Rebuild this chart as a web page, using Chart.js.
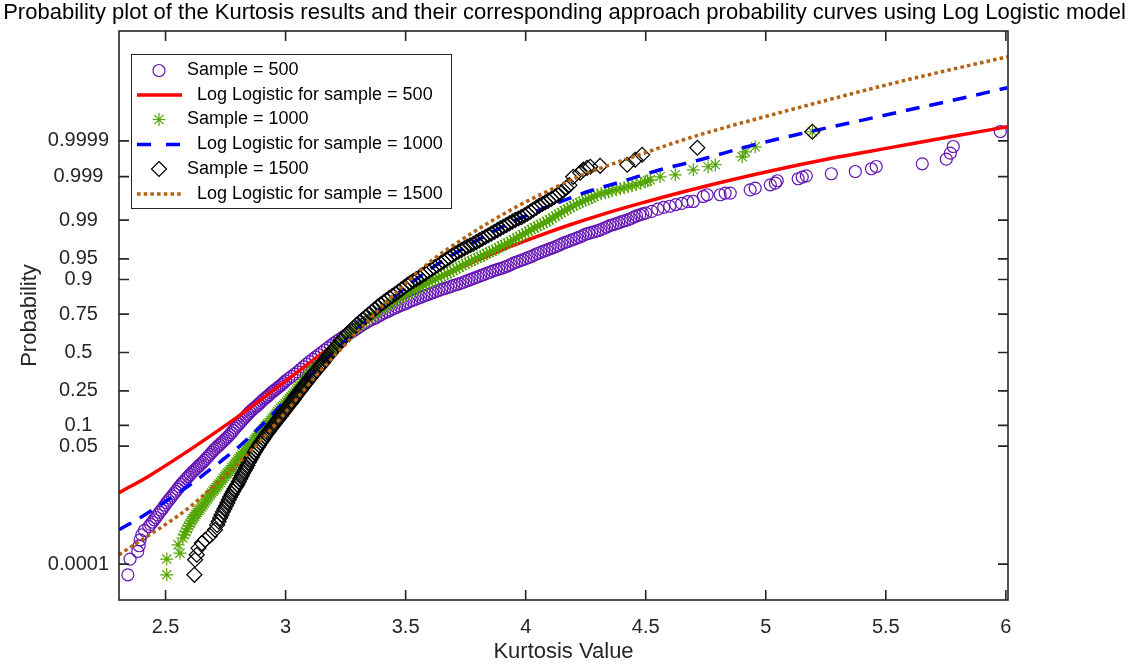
<!DOCTYPE html>
<html><head><meta charset="utf-8">
<script src="https://cdn.jsdelivr.net/npm/chart.js@4.4.1/dist/chart.umd.min.js"></script>
<style>html,body{margin:0;padding:0;background:#fff;overflow:hidden}</style>
</head><body>
<canvas id="c" width="1129" height="666"></canvas>
<script>
// ---- Axis ticks ----
const xTickValues = [2.5, 3, 3.5, 4, 4.5, 5, 5.5, 6];
const xTickLabels = ['2.5', '3', '3.5', '4', '4.5', '5', '5.5', '6'];
const yTickProbs  = [0.0001, 0.05, 0.1, 0.25, 0.5, 0.75, 0.9, 0.95, 0.99, 0.999, 0.9999];
const yTickLabels = ['0.0001', '0.05', '0.1', '0.25', '0.5', '0.75', '0.9', '0.95', '0.99', '0.999', '0.9999'];

// ---- Data: [kurtosis value, standard-normal quantile of plotting probability] ----
const sample500 = [
[2.343,-3.907],[2.352,-3.631],[2.384,-3.497],[2.390,-3.397],[2.394,-3.292],[2.401,-3.204],[2.412,-3.128],
[2.4300,-3.06],[2.4375,-3.02],[2.4450,-2.98],[2.4525,-2.94],[2.4600,-2.90],[2.4675,-2.855],[2.4750,-2.81],[2.4825,-2.77],
[2.4900,-2.73],[2.4975,-2.685],[2.5050,-2.64],[2.5125,-2.60],[2.5200,-2.56],[2.5275,-2.52],[2.5350,-2.48],[2.5425,-2.44],
[2.5500,-2.40],[2.5575,-2.36],[2.5650,-2.32],[2.5725,-2.285],[2.5800,-2.25],[2.5875,-2.215],[2.5950,-2.18],[2.6025,-2.145],
[2.6100,-2.11],[2.6175,-2.08],[2.6250,-2.05],[2.6325,-2.02],[2.6400,-1.99],[2.6475,-1.96],[2.6550,-1.93],[2.6625,-1.895],
[2.6700,-1.86],[2.6775,-1.825],[2.6850,-1.79],[2.6925,-1.755],[2.7000,-1.72],[2.7075,-1.69],[2.7150,-1.66],[2.7225,-1.63],
[2.7300,-1.60],[2.7375,-1.57],[2.7450,-1.54],[2.7525,-1.51],[2.7600,-1.48],[2.7675,-1.445],[2.7750,-1.41],[2.7825,-1.37],
[2.7900,-1.33],[2.7975,-1.295],[2.8050,-1.26],[2.8125,-1.225],[2.8200,-1.19],[2.8275,-1.155],[2.8350,-1.12],[2.8425,-1.085],
[2.8500,-1.05],[2.8575,-1.02],[2.8650,-0.99],[2.8725,-0.965],[2.8800,-0.94],[2.8875,-0.91],[2.8950,-0.88],[2.9025,-0.85],
[2.9100,-0.82],[2.9175,-0.795],[2.9250,-0.77],[2.9325,-0.74],[2.9400,-0.71],[2.9475,-0.685],[2.9550,-0.66],[2.9625,-0.635],
[2.9700,-0.61],[2.9775,-0.585],[2.9850,-0.56],[2.9925,-0.53],[3.0000,-0.50],
[3.0125,-0.46],[3.025,-0.42],[3.0375,-0.38],[3.05,-0.34],[3.0625,-0.295],[3.075,-0.25],[3.0875,-0.205],[3.1,-0.16],
[3.1125,-0.12],[3.125,-0.08],[3.1375,-0.04],[3.15,0.00],[3.1625,0.04],[3.175,0.08],[3.1875,0.12],[3.2,0.16],
[3.2125,0.195],[3.225,0.23],[3.2375,0.265],[3.25,0.30],[3.2625,0.33],[3.275,0.36],[3.2875,0.395],[3.3,0.43],
[3.3125,0.465],[3.325,0.50],[3.3375,0.53],[3.35,0.56],[3.3625,0.585],[3.375,0.61],[3.3875,0.64],[3.4,0.67],
[3.4125,0.695],[3.425,0.72],[3.4375,0.745],[3.45,0.77],[3.4625,0.795],[3.475,0.82],[3.4875,0.84],[3.5,0.86],
[3.5125,0.885],[3.525,0.91],[3.5375,0.93],[3.55,0.95],[3.5625,0.97],[3.575,0.99],[3.5875,1.01],[3.6,1.03],
[3.6125,1.05],[3.625,1.07],[3.6375,1.09],[3.65,1.11],[3.6625,1.125],[3.675,1.14],[3.6875,1.16],[3.7,1.18],
[3.7125,1.195],[3.725,1.21],[3.7375,1.23],[3.75,1.25],[3.7625,1.27],[3.775,1.29],[3.7875,1.31],[3.8,1.33],
[3.8125,1.35],[3.825,1.37],[3.8375,1.39],[3.85,1.41],[3.8625,1.43],[3.875,1.45],[3.8875,1.465],[3.9,1.48],
[3.9125,1.50],[3.925,1.52],[3.9375,1.545],[3.95,1.57],[3.9625,1.59],[3.975,1.61],[3.9875,1.63],[4.0,1.65],
[4.0125,1.67],[4.025,1.69],[4.0375,1.715],[4.05,1.74],[4.0625,1.76],[4.075,1.78],[4.0875,1.80],[4.1,1.82],
[4.1125,1.84],[4.125,1.86],[4.1375,1.885],[4.15,1.91],[4.1625,1.93],[4.175,1.95],[4.1875,1.97],[4.2,1.99],
[4.2125,2.01],[4.225,2.03],[4.2375,2.055],[4.25,2.08],[4.2625,2.095],[4.275,2.11],[4.2875,2.125],[4.3,2.14],
[4.3125,2.16],[4.325,2.18],[4.3375,2.205],[4.35,2.23],[4.3625,2.245],[4.375,2.26],[4.3875,2.28],[4.4,2.30],
[4.4125,2.315],[4.425,2.33],[4.4375,2.355],[4.45,2.38],[4.4625,2.40],[4.475,2.42],[4.4875,2.435],[4.5,2.45],
[4.525,2.48],[4.55,2.52],[4.575,2.55],[4.6,2.57],[4.625,2.60],[4.65,2.62],[4.675,2.65],
[4.698,2.654],[4.740,2.742],[4.756,2.772],[4.810,2.772],[4.831,2.801],[4.852,2.801],[4.935,2.859],[4.956,2.889],
[5.019,2.947],[5.040,2.977],[5.048,3.018],[5.135,3.053],[5.152,3.083],[5.169,3.105],[5.273,3.141],[5.373,3.181],
[5.440,3.229],[5.460,3.269],[5.652,3.316],[5.752,3.399],[5.769,3.504],[5.781,3.620],[5.977,3.884]
];
const sample1000 = [
[2.505,-3.907],[2.505,-3.631],[2.560,-3.526],[2.552,-3.380],
[2.572,-3.26],[2.578,-3.205],[2.584,-3.15],[2.590,-3.10],[2.596,-3.05],[2.602,-3.005],[2.608,-2.96],[2.614,-2.92],
[2.620,-2.88],[2.626,-2.845],[2.632,-2.81],[2.638,-2.78],[2.644,-2.75],[2.650,-2.715],[2.656,-2.68],[2.662,-2.645],
[2.668,-2.61],[2.674,-2.575],[2.680,-2.54],[2.686,-2.505],[2.692,-2.47],[2.698,-2.44],[2.704,-2.41],[2.710,-2.375],
[2.716,-2.34],[2.722,-2.31],[2.728,-2.28],[2.734,-2.245],[2.740,-2.21],[2.746,-2.18],[2.752,-2.15],[2.758,-2.12],
[2.764,-2.09],[2.770,-2.055],[2.776,-2.02],[2.782,-1.99],[2.788,-1.96],[2.794,-1.925],[2.800,-1.89],[2.806,-1.86],
[2.812,-1.83],[2.818,-1.80],[2.824,-1.77],[2.830,-1.74],[2.836,-1.71],[2.842,-1.68],[2.848,-1.65],[2.854,-1.62],
[2.860,-1.59],[2.866,-1.56],[2.872,-1.53],[2.878,-1.495],[2.884,-1.46],[2.890,-1.43],[2.896,-1.40],[2.902,-1.37],
[2.908,-1.34],[2.914,-1.31],[2.920,-1.28],[2.926,-1.255],[2.932,-1.23],[2.938,-1.195],[2.944,-1.16],[2.950,-1.13],
[2.956,-1.10],[2.962,-1.07],[2.968,-1.04],[2.974,-1.01],[2.980,-0.98],[2.986,-0.955],[2.992,-0.93],[2.998,-0.90],
[3.004,-0.87],[3.010,-0.84],[3.016,-0.81],[3.022,-0.78],[3.028,-0.75],[3.034,-0.72],[3.040,-0.69],[3.046,-0.66],
[3.052,-0.63],[3.058,-0.60],[3.064,-0.57],[3.070,-0.54],[3.076,-0.51],[3.082,-0.475],[3.088,-0.44],[3.094,-0.41],
[3.100,-0.38],[3.106,-0.35],[3.112,-0.32],[3.118,-0.295],[3.124,-0.27],
[3.1365,-0.215],[3.149,-0.16],[3.1615,-0.11],[3.174,-0.06],[3.1865,-0.005],[3.199,0.05],[3.2115,0.105],[3.224,0.16],
[3.2365,0.21],[3.249,0.26],[3.2615,0.31],[3.274,0.36],[3.2865,0.40],[3.299,0.44],[3.3115,0.48],[3.324,0.52],
[3.3365,0.56],[3.349,0.60],[3.3615,0.64],[3.374,0.68],[3.3865,0.715],[3.399,0.75],[3.4115,0.785],[3.424,0.82],
[3.4365,0.855],[3.449,0.89],[3.4615,0.92],[3.474,0.95],[3.4865,0.98],[3.499,1.01],[3.5115,1.04],[3.524,1.07],
[3.5365,1.095],[3.549,1.12],[3.5615,1.15],[3.574,1.18],[3.5865,1.21],[3.599,1.24],[3.6115,1.265],[3.624,1.29],
[3.6365,1.315],[3.649,1.34],[3.6615,1.365],[3.674,1.39],[3.6865,1.415],[3.699,1.44],[3.7115,1.47],[3.724,1.50],
[3.7365,1.53],[3.749,1.56],[3.7615,1.585],[3.774,1.61],[3.7865,1.635],[3.799,1.66],[3.8115,1.685],[3.824,1.71],
[3.8365,1.735],[3.849,1.76],[3.8615,1.785],[3.874,1.81],[3.8865,1.84],[3.899,1.87],[3.9115,1.895],[3.924,1.92],
[3.9365,1.95],[3.949,1.98],[3.9615,2.01],[3.974,2.04],[3.9865,2.07],[3.999,2.10],[4.0115,2.13],[4.024,2.16],
[4.0365,2.19],[4.049,2.22],[4.0615,2.245],[4.074,2.27],[4.0865,2.30],[4.099,2.33],[4.1115,2.365],[4.124,2.40],
[4.1365,2.43],[4.149,2.46],[4.1615,2.49],[4.174,2.52],[4.1865,2.55],[4.199,2.58],[4.2115,2.605],[4.224,2.63],
[4.2365,2.655],[4.249,2.68],[4.2615,2.70],[4.274,2.72],
[4.285,2.745],[4.298,2.772],[4.315,2.79],[4.331,2.807],[4.345,2.825],[4.360,2.842],[4.377,2.86],[4.394,2.877],
[4.410,2.895],[4.427,2.912],[4.443,2.93],[4.460,2.947],[4.479,2.975],[4.498,3.000],[4.508,3.018],[4.519,3.035],
[4.560,3.088],[4.623,3.123],[4.698,3.211],[4.760,3.264],[4.790,3.299],[4.902,3.439],[4.915,3.527],[4.956,3.615],
[5.194,3.879]
];
const sample1500 = [
[2.620,-3.907],[2.623,-3.643],[2.630,-3.555],[2.637,-3.438],[2.651,-3.350],[2.665,-3.292],[2.685,-3.221],[2.706,-3.116],
[2.715,-3.03],[2.721,-2.97],[2.727,-2.91],[2.733,-2.855],[2.739,-2.80],[2.745,-2.75],[2.751,-2.70],[2.757,-2.645],
[2.763,-2.59],[2.769,-2.54],[2.775,-2.49],[2.781,-2.445],[2.787,-2.40],[2.793,-2.36],[2.799,-2.32],[2.805,-2.27],
[2.811,-2.22],[2.817,-2.17],[2.823,-2.12],[2.829,-2.075],[2.835,-2.03],[2.841,-1.98],[2.847,-1.93],[2.853,-1.885],
[2.859,-1.84],[2.865,-1.795],[2.871,-1.75],[2.877,-1.71],[2.883,-1.67],[2.889,-1.63],[2.895,-1.59],[2.901,-1.555],
[2.907,-1.52],[2.913,-1.48],[2.919,-1.44],[2.925,-1.41],[2.931,-1.38],[2.937,-1.345],[2.943,-1.31],[2.949,-1.28],
[2.955,-1.25],[2.961,-1.215],[2.967,-1.18],[2.973,-1.15],[2.979,-1.12],[2.985,-1.085],[2.991,-1.05],[2.997,-1.02],
[3.003,-0.99],[3.009,-0.955],[3.015,-0.92],[3.021,-0.89],[3.027,-0.86],[3.033,-0.825],[3.039,-0.79],[3.045,-0.755],
[3.051,-0.72],[3.057,-0.69],[3.063,-0.66],[3.069,-0.625],[3.075,-0.59],[3.081,-0.56],[3.087,-0.53],[3.093,-0.495],
[3.099,-0.46],[3.105,-0.43],[3.111,-0.40],[3.117,-0.37],[3.123,-0.34],[3.129,-0.31],[3.135,-0.28],[3.141,-0.25],
[3.147,-0.22],[3.153,-0.19],[3.159,-0.16],[3.165,-0.125],[3.171,-0.09],[3.177,-0.06],[3.183,-0.03],[3.189,0.00],
[3.195,0.03],[3.201,0.06],[3.207,0.09],
[3.2195,0.15],[3.232,0.21],[3.2445,0.27],[3.257,0.33],[3.2695,0.38],[3.282,0.43],[3.2945,0.48],[3.307,0.53],
[3.3195,0.575],[3.332,0.62],[3.3445,0.665],[3.357,0.71],[3.3695,0.755],[3.382,0.80],[3.3945,0.84],[3.407,0.88],
[3.4195,0.92],[3.432,0.96],[3.4445,0.995],[3.457,1.03],[3.4695,1.07],[3.482,1.11],[3.4945,1.15],[3.507,1.19],
[3.5195,1.225],[3.532,1.26],[3.5445,1.29],[3.557,1.32],[3.5695,1.355],[3.582,1.39],[3.5945,1.425],[3.607,1.46],
[3.6195,1.495],[3.632,1.53],[3.6445,1.565],[3.657,1.60],[3.6695,1.635],[3.682,1.67],[3.6945,1.705],[3.707,1.74],
[3.7195,1.77],[3.732,1.80],[3.7445,1.83],[3.757,1.86],[3.7695,1.885],[3.782,1.91],[3.7945,1.94],[3.807,1.97],
[3.8195,2.00],[3.832,2.03],[3.8445,2.06],[3.857,2.09],[3.8695,2.12],[3.882,2.15],[3.8945,2.18],[3.907,2.21],
[3.9195,2.24],[3.932,2.27],[3.9445,2.30],[3.957,2.33],[3.9695,2.355],[3.982,2.38],[3.9945,2.41],[4.007,2.44],
[4.0195,2.475],[4.032,2.51],[4.0445,2.545],[4.057,2.58],[4.0695,2.61],[4.082,2.64],[4.0945,2.67],[4.107,2.70],
[4.1195,2.735],[4.132,2.77],[4.1445,2.81],[4.157,2.85],[4.1695,2.895],[4.182,2.94],
[4.198,3.088],[4.227,3.159],[4.240,3.212],[4.256,3.246],[4.269,3.264],[4.310,3.281],[4.423,3.299],[4.456,3.387],
[4.485,3.475],[4.715,3.598],[5.194,3.879]
];
// Log-logistic fitted curves (kurtosis value, normal quantile)
const fit500 = [
[2.306,-2.466],[2.435,-2.16],[2.569,-1.80],[2.685,-1.47],[2.810,-1.10],[2.935,-0.71],[3.060,-0.31],
[3.185,0.09],[3.310,0.469],[3.435,0.821],[3.560,1.137],[3.685,1.401],[3.810,1.640],[3.935,1.860],[4.060,2.060],
[4.185,2.245],[4.310,2.415],[4.477,2.620],[4.727,2.900],[5.019,3.190],[5.269,3.410],[5.519,3.600],[5.769,3.790],[6.006,3.967]
];
const fit1000 = [
[2.306,-3.116],[2.394,-2.905],[2.498,-2.624],[2.602,-2.325],[2.706,-1.991],[2.810,-1.640],[2.915,-1.218],
[3.019,-0.761],[3.144,-0.234],[3.269,0.293],[3.394,0.768],[3.519,1.207],[3.644,1.580],[3.769,1.900],[3.894,2.191],
[4.019,2.437],[4.144,2.648],[4.269,2.842],[4.394,2.995],[4.560,3.211],[4.727,3.387],[4.935,3.632],[5.144,3.843],
[5.352,4.036],[5.560,4.230],[5.769,4.423],[6.006,4.652]
];
const fit1500 = [
[2.306,-3.556],[2.394,-3.310],[2.498,-3.028],[2.602,-2.712],[2.706,-2.325],[2.810,-1.921],[2.915,-1.464],
[3.019,-0.954],[3.123,-0.427],[3.227,0.047],[3.352,0.592],[3.477,1.120],[3.602,1.594],[3.727,1.963],[3.852,2.297],
[3.977,2.596],[4.102,2.857],[4.227,3.105],[4.352,3.300],[4.477,3.480],[4.644,3.720],[4.810,3.930],[5.019,4.170],
[5.269,4.450],[5.519,4.720],[5.769,4.970],[6.006,5.196]
];

// inverse standard normal CDF (probability-axis transform for tick positions)
function norminv(p){
  const a=[-3.969683028665376e+01,2.209460984245205e+02,-2.759285104469687e+02,1.383577518672690e+02,-3.066479806614716e+01,2.506628277459239e+00];
  const b=[-5.447609879822406e+01,1.615858368580409e+02,-1.556989798598866e+02,6.680131188771972e+01,-1.328068155288572e+01];
  const c=[-7.784894002430293e-03,-3.223964580411365e-01,-2.400758277161838e+00,-2.549671010243732e+00,4.374664141464968e+00,2.938163982698783e+00];
  const d=[7.784695709041462e-03,3.224671290700398e-01,2.445134137142996e+00,3.754408661907416e+00];
  const pl=0.02425, ph=1-pl; let q,r;
  if(p<pl){q=Math.sqrt(-2*Math.log(p));return (((((c[0]*q+c[1])*q+c[2])*q+c[3])*q+c[4])*q+c[5])/((((d[0]*q+d[1])*q+d[2])*q+d[3])*q+1);}
  if(p<=ph){q=p-0.5;r=q*q;return (((((a[0]*r+a[1])*r+a[2])*r+a[3])*r+a[4])*r+a[5])*q/(((((b[0]*r+b[1])*r+b[2])*r+b[3])*r+b[4])*r+1);}
  q=Math.sqrt(-2*Math.log(1-p));return -(((((c[0]*q+c[1])*q+c[2])*q+c[3])*q+c[4])*q+c[5])/((((d[0]*q+d[1])*q+d[2])*q+d[3])*q+1);
}
const toXY = arr => arr.map(p => ({x: p[0], y: p[1]}));

const FONT = "'Liberation Sans', Arial, Helvetica, sans-serif";
const C_PURPLE = '#6414b4', C_GREEN = '#52a500', C_BROWN = '#b5600e';

const datasets = [
  {label:'Sample = 500', data:toXY(sample500), showLine:false, pointStyle:'circle', pointRadius:6,
   borderColor:C_PURPLE, backgroundColor:'rgba(0,0,0,0)', pointBorderWidth:1.2, order:6, legendKind:'circle'},
  {label:'Log Logistic for sample = 500', data:toXY(fit500), showLine:true, pointRadius:0, borderColor:'#ff0000',
   borderWidth:3.5, cubicInterpolationMode:'monotone', order:5, legendKind:'line', dash:[]},
  {label:'Sample = 1000', data:toXY(sample1000), showLine:false, pointStyle:'star', pointRadius:6.5,
   borderColor:C_GREEN, backgroundColor:C_GREEN, pointBorderWidth:1.2, order:4, legendKind:'star'},
  {label:'Log Logistic for sample = 1000', data:toXY(fit1000), showLine:true, pointRadius:0, borderColor:'#0000ff',
   borderWidth:3.5, borderDash:[14,10], cubicInterpolationMode:'monotone', order:3, legendKind:'line', dash:[14,15]},
  {label:'Sample = 1500', data:toXY(sample1500), showLine:false, pointStyle:'rectRot', pointRadius:7.5,
   borderColor:'#000000', backgroundColor:'rgba(0,0,0,0)', pointBorderWidth:1.2, order:2, legendKind:'diamond'},
  {label:'Log Logistic for sample = 1500', data:toXY(fit1500), showLine:true, pointRadius:0, borderColor:C_BROWN,
   borderWidth:3.5, borderDash:[3.5,3.2], cubicInterpolationMode:'monotone', order:1, legendKind:'line', dash:[3.5,3.2]}
];

const framePlugin = {
  id:'frame',
  afterDatasetsDraw(chart){
    const {ctx, chartArea:a, scales:{x, y}} = chart;
    ctx.save();
    ctx.strokeStyle = '#262626'; ctx.lineWidth = 1.6; ctx.setLineDash([]);
    ctx.strokeRect(a.left, a.top, a.right - a.left, a.bottom - a.top);
    const tl = 10;
    ctx.beginPath();
    x.ticks.forEach(t => { const px = x.getPixelForValue(t.value);
      ctx.moveTo(px, a.bottom); ctx.lineTo(px, a.bottom - tl);
      ctx.moveTo(px, a.top); ctx.lineTo(px, a.top + tl); });
    y.ticks.forEach(t => { const py = y.getPixelForValue(t.value);
      ctx.moveTo(a.left, py); ctx.lineTo(a.left + tl, py);
      ctx.moveTo(a.right, py); ctx.lineTo(a.right - tl, py); });
    ctx.stroke();
    ctx.restore();
  }
};

const legendPlugin = {
  id:'boxLegend',
  afterDraw(chart){
    const ctx = chart.ctx;
    const bx = 131, by = 54, bw = 320, bh = 154;
    ctx.save();
    ctx.fillStyle = '#ffffff'; ctx.fillRect(bx, by, bw, bh);
    ctx.strokeStyle = '#262626'; ctx.lineWidth = 1; ctx.setLineDash([]);
    ctx.strokeRect(bx + 0.5, by + 0.5, bw, bh);
    ctx.font = '18px ' + FONT; ctx.textBaseline = 'middle'; ctx.fillStyle = '#000';
    const rows = [70.5, 95, 119.5, 144.5, 169, 194];
    chart.data.datasets.forEach((ds, i) => {
      const yy = rows[i], cx = 159;
      ctx.strokeStyle = ds.borderColor; ctx.setLineDash([]);
      if (ds.legendKind === 'line') {
        ctx.lineWidth = ds.borderWidth; ctx.setLineDash(ds.dash);
        ctx.beginPath(); ctx.moveTo(137, yy); ctx.lineTo(182, yy); ctx.stroke();
        ctx.setLineDash([]);
        ctx.fillStyle = '#000'; ctx.textAlign = 'left'; ctx.fillText(ds.label, 197, yy);
      } else {
        ctx.lineWidth = 1.2; ctx.beginPath();
        if (ds.legendKind === 'circle') { ctx.arc(cx, yy, 6, 0, Math.PI * 2); }
        else if (ds.legendKind === 'star') {
          const r = 6.5, d = r * Math.SQRT1_2;
          ctx.moveTo(cx - r, yy); ctx.lineTo(cx + r, yy); ctx.moveTo(cx, yy - r); ctx.lineTo(cx, yy + r);
          ctx.moveTo(cx - d, yy - d); ctx.lineTo(cx + d, yy + d); ctx.moveTo(cx - d, yy + d); ctx.lineTo(cx + d, yy - d);
        } else {
          const r = 7.5; ctx.moveTo(cx, yy - r); ctx.lineTo(cx + r, yy); ctx.lineTo(cx, yy + r); ctx.lineTo(cx - r, yy); ctx.closePath();
        }
        ctx.stroke();
        ctx.fillStyle = '#000'; ctx.textAlign = 'left'; ctx.fillText(ds.label, 187, yy);
      }
    });
    ctx.restore();
  }
};

new Chart(document.getElementById('c'), {
  type:'scatter',
  data:{datasets},
  plugins:[framePlugin, legendPlugin],
  options:{
    responsive:false, animation:false, devicePixelRatio:1,
    layout:{padding:{left:0, right:0, top:0, bottom:0}},
    plugins:{
      legend:{display:false}, tooltip:{enabled:false},
      title:{display:true, text:'Probability plot of the Kurtosis results and their corresponding approach probability curves using Log Logistic model',
        color:'#000', font:{family:FONT, size:22, weight:'normal'}, padding:{top:0, bottom:4.6}}
    },
    scales:{
      x:{type:'linear', min:2.306, max:6.009,
        grid:{display:false, drawTicks:false}, border:{display:false},
        afterBuildTicks:s => { s.ticks = xTickValues.map(v => ({value:v})); },
        ticks:{autoSkip:false, maxRotation:0, padding:15, color:'#262626', font:{family:FONT, size:20},
          callback:(v, i) => xTickLabels[i]},
        title:{display:true, text:'Kurtosis Value', color:'#262626', font:{family:FONT, size:22}, padding:{top:0, bottom:1}},
        afterFit:s => { s.height = 66; }
      },
      y:{type:'linear', min:-4.35, max:5.65,
        grid:{display:false, drawTicks:false}, border:{display:false},
        afterBuildTicks:s => { s.ticks = yTickProbs.map(p => ({value:norminv(p)})); },
        ticks:{autoSkip:false, crossAlign:'center', padding:10, color:'#262626', font:{family:FONT, size:20},
          callback:(v, i) => yTickLabels[i]},
        title:{display:true, text:'Probability', color:'#262626', font:{family:FONT, size:22}, padding:{top:17, bottom:0}},
        afterFit:s => { s.width = 119; }
      },
      yRightSpace:{type:'linear', position:'right', display:true,
        grid:{display:false, drawTicks:false}, border:{display:false}, ticks:{display:false},
        afterFit:s => { s.width = 121; }
      }
    }
  }
});
</script>
</body></html>
